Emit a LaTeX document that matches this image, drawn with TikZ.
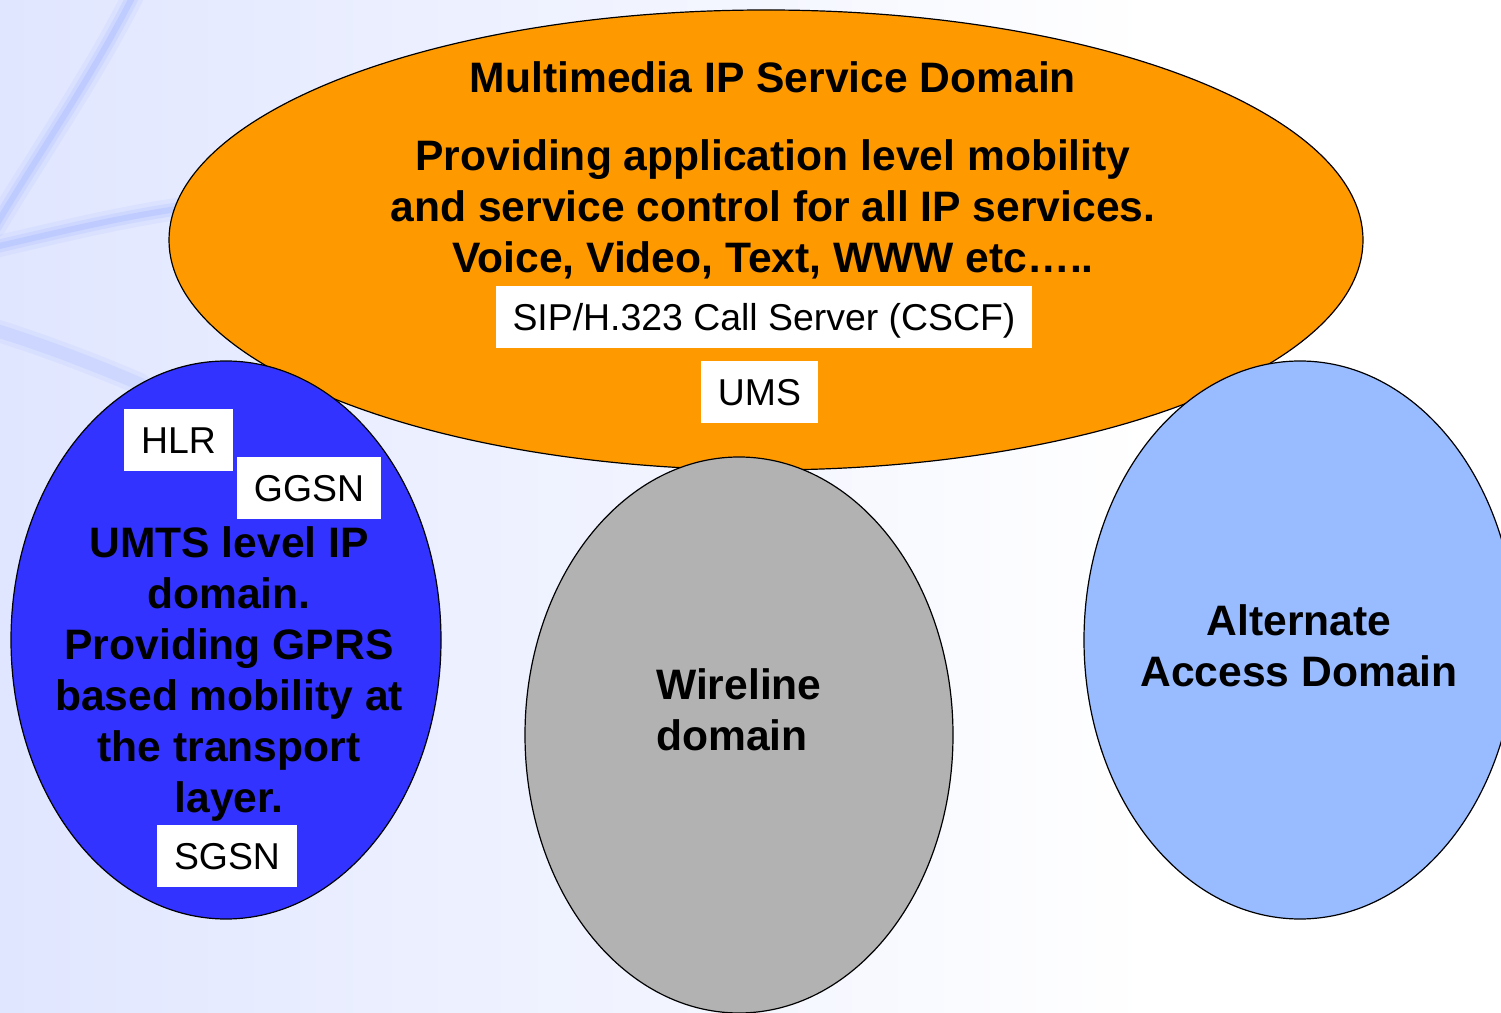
\documentclass[tikz,border=0pt]{standalone}
\usepackage{fontspec}
\setmainfont{Liberation Sans}
\usetikzlibrary{shapes.geometric}
\definecolor{orng}{HTML}{FF9900}
\definecolor{umtsblue}{HTML}{3333FF}
\definecolor{wgrey}{HTML}{B2B2B2}
\definecolor{altblue}{HTML}{99BBFF}
\definecolor{bgblue}{HTML}{E0E6FF}
\definecolor{swirl}{HTML}{9FB2FF}
\begin{document}
\begin{tikzpicture}[x=1pt,y=1pt,
  domainshape/.style={ellipse, draw=black, line width=1.2pt, inner sep=0pt},
  bigtext/.style={font=\fontsize{42.6}{51}\selectfont\bfseries, align=center, text=black, inner sep=0pt},
  labelbox/.style={fill=white, inner sep=0pt, font=\fontsize{37.4}{44}\selectfont, minimum height=62pt, text height=26.8pt, text depth=0pt},
  swirlwide/.style={draw=swirl, line width=22pt, opacity=0.12, line cap=round},
  swirlmid/.style={draw=swirl, line width=13pt, opacity=0.2, line cap=round},
  swirlcore/.style={draw=swirl, line width=6pt, opacity=0.3, line cap=round},
]
\useasboundingbox (0,0) rectangle (1501,1012);
\clip (0,0) rectangle (1501,1012);
% background
\fill[white] (0,0) rectangle (1501,1012);
\shade[left color=bgblue, right color=white] (0,0) rectangle (1150,1012);
\foreach \s in {swirlwide,swirlmid,swirlcore}{
  \draw[\s] (135,1020) .. controls (95,940) and (40,860) .. (-5,785);
  \draw[\s] (-5,765) .. controls (60,780) and (120,795) .. (190,805);
}
\foreach \s in {swirlwide,swirlmid}{
  \draw[\s] (-5,682) .. controls (50,665) and (100,645) .. (140,628);
}
% domains
\node[domainshape, fill=orng, minimum width=1194pt, minimum height=460pt] (ims) at (766,772) {};
\node[domainshape, fill=umtsblue, minimum width=430pt, minimum height=558pt] (umts) at (226,372) {};
\node[domainshape, fill=wgrey, minimum width=428pt, minimum height=556pt] (wire) at (739,277) {};
\node[domainshape, fill=altblue, minimum width=432pt, minimum height=558pt] (alt) at (1300,372) {};
% texts
\node[bigtext] (imstitle) at (773,935) {Multimedia IP Service Domain};
\node[bigtext] (imstext) at (773,803) {Providing application level mobility\\and service control for all IP services.\\Voice, Video, Text, WWW etc\ldots..};
\node[bigtext] (umtstext) at (229,338) {UMTS level IP\\domain.\\Providing GPRS\\based mobility at\\the transport\\layer.};
\node[bigtext, align=left, anchor=west] (wiretext) at (656,302) {Wireline\\domain};
\node[bigtext] (alttext) at (1299,366) {Alternate\\Access Domain};
% white boxes
\node[labelbox, minimum width=536pt] (cscf) at (764,695) {SIP/H.323 Call Server (CSCF)};
\node[labelbox, minimum width=117pt] (ums) at (759.5,620) {UMS};
\node[labelbox, minimum width=109pt] (hlr) at (178.5,572) {HLR};
\node[labelbox, minimum width=144pt] (ggsn) at (309,524) {GGSN};
\node[labelbox, minimum width=140pt] (sgsn) at (227,156) {SGSN};
\end{tikzpicture}
\end{document}
